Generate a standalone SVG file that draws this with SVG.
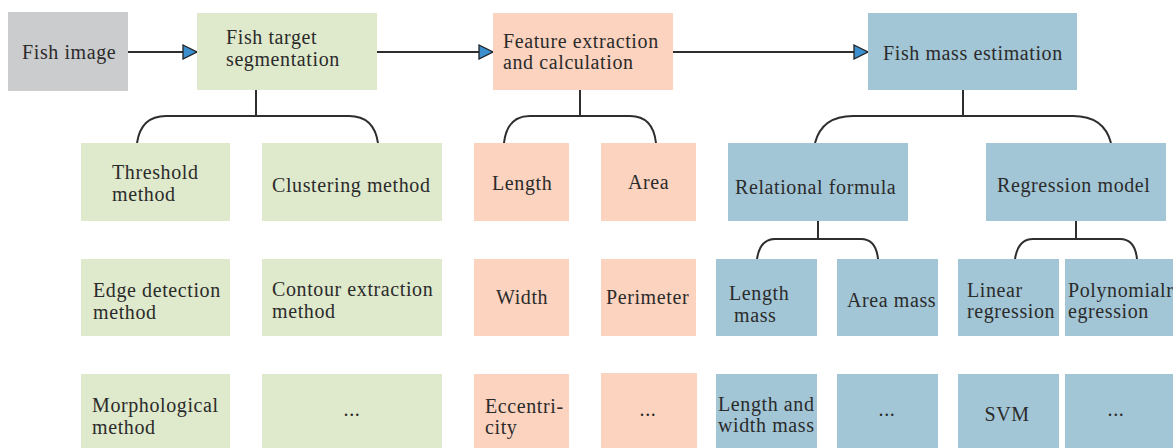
<svg xmlns="http://www.w3.org/2000/svg" width="1173" height="448" viewBox="0 0 1173 448">
  <style>
    text { font-family: "Liberation Serif", "Times New Roman", serif; font-size: 20px; fill: #2b2b2b; letter-spacing: 0.6px; }
    .gray { fill: #cbccce; }
    .green { fill: #dfe9cc; }
    .peach { fill: #fbd3bf; }
    .blue { fill: #a2c6d6; }
    .wire { fill: none; stroke: #2e2e2e; stroke-width: 2; }
    .mid { text-anchor: middle; }
  </style>
  <defs>
    <marker id="tri" markerUnits="userSpaceOnUse" markerWidth="16" markerHeight="16" refX="14" refY="7" orient="auto" viewBox="-1 -1 16 16">
      <path d="M0,0 L14,7 L0,14 Z" fill="#3b8fcf" stroke="#222" stroke-width="1.3"/>
    </marker>
  </defs>

  <!-- connectors -->
  <g id="connectors">
    <line class="wire" x1="128" y1="52" x2="197" y2="52" marker-end="url(#tri)"/>
    <line class="wire" x1="377" y1="52" x2="493" y2="52" marker-end="url(#tri)"/>
    <line class="wire" x1="673" y1="52" x2="868" y2="52" marker-end="url(#tri)"/>

    <!-- segmentation branches -->
    <path class="wire" d="M256 90 V116"/>
    <path class="wire" d="M137 143 Q141 116 166 116 H349 Q374 116 378 143"/>
    <!-- feature branches -->
    <path class="wire" d="M580 90 V116"/>
    <path class="wire" d="M504 143 Q507 116 530 116 H630 Q653 116 656 143"/>
    <!-- mass estimation branches -->
    <path class="wire" d="M963 90 V116"/>
    <path class="wire" d="M815 143 Q822 116 853 116 H1073 Q1104 116 1111 143"/>
    <!-- relational formula branches -->
    <path class="wire" d="M818 221 V239"/>
    <path class="wire" d="M757 259 Q760 239 775 239 H861 Q876 239 878 259"/>
    <!-- regression model branches -->
    <path class="wire" d="M1076 221 V239"/>
    <path class="wire" d="M1015 259 Q1018 239 1033 239 H1120 Q1135 239 1137 259"/>
  </g>

  <!-- top row -->
  <g id="fish-image">
    <rect class="gray" x="8" y="12" width="120" height="79"/>
    <text x="22" y="59">Fish image</text>
  </g>
  <g id="segmentation">
    <rect class="green" x="197" y="13" width="180" height="77"/>
    <text x="226" y="44">Fish target</text>
    <text x="226" y="66">segmentation</text>
  </g>
  <g id="feature">
    <rect class="peach" x="493" y="13" width="180" height="77"/>
    <text x="503" y="48">Feature extraction</text>
    <text x="503" y="69">and calculation</text>
  </g>
  <g id="mass-estimation">
    <rect class="blue" x="868" y="13" width="209" height="77"/>
    <text x="883" y="60">Fish mass estimation</text>
  </g>

  <!-- segmentation methods -->
  <g id="threshold">
    <rect class="green" x="81" y="143" width="149" height="78"/>
    <text x="112" y="179">Threshold</text>
    <text x="112" y="201">method</text>
  </g>
  <g id="clustering">
    <rect class="green" x="262" y="143" width="180" height="78"/>
    <text x="272" y="192">Clustering method</text>
  </g>
  <g id="edge">
    <rect class="green" x="81" y="259" width="149" height="77"/>
    <text x="93" y="297">Edge detection</text>
    <text x="93" y="319">method</text>
  </g>
  <g id="contour">
    <rect class="green" x="262" y="259" width="180" height="77"/>
    <text x="272" y="296">Contour extraction</text>
    <text x="272" y="318">method</text>
  </g>
  <g id="morphological">
    <rect class="green" x="81" y="374" width="149" height="80"/>
    <text x="92" y="412">Morphological</text>
    <text x="92" y="434">method</text>
  </g>
  <g id="seg-more">
    <rect class="green" x="262" y="374" width="180" height="80"/>
    <text class="mid" x="352" y="416">...</text>
  </g>

  <!-- features -->
  <g id="length">
    <rect class="peach" x="474" y="143" width="95" height="78"/>
    <text x="492" y="190">Length</text>
  </g>
  <g id="area">
    <rect class="peach" x="601" y="143" width="95" height="78"/>
    <text x="628" y="189">Area</text>
  </g>
  <g id="width">
    <rect class="peach" x="474" y="259" width="95" height="77"/>
    <text x="496" y="304">Width</text>
  </g>
  <g id="perimeter">
    <rect class="peach" x="601" y="259" width="95" height="77"/>
    <text x="606" y="304">Perimeter</text>
  </g>
  <g id="eccentricity">
    <rect class="peach" x="474" y="374" width="95" height="80"/>
    <text x="485" y="413">Eccentri-</text>
    <text x="485" y="434">city</text>
  </g>
  <g id="feature-more">
    <rect class="peach" x="601" y="373" width="96" height="81"/>
    <text class="mid" x="648" y="416">...</text>
  </g>

  <!-- mass estimation approaches -->
  <g id="relational">
    <rect class="blue" x="728" y="143" width="180" height="78"/>
    <text x="735" y="194">Relational formula</text>
  </g>
  <g id="regression">
    <rect class="blue" x="986" y="143" width="180" height="78"/>
    <text x="997" y="192">Regression model</text>
  </g>
  <g id="length-mass">
    <rect class="blue" x="716" y="259" width="101" height="77"/>
    <text x="729" y="300">Length</text>
    <text x="734" y="322">mass</text>
  </g>
  <g id="area-mass">
    <rect class="blue" x="837" y="259" width="101" height="77"/>
    <text x="847" y="307">Area mass</text>
  </g>
  <g id="linear">
    <rect class="blue" x="958" y="259" width="101" height="77"/>
    <text x="967" y="297">Linear</text>
    <text x="967" y="318">regression</text>
  </g>
  <g id="polynomial">
    <rect class="blue" x="1065" y="259" width="115" height="77"/>
    <text x="1068" y="297">Polynomialr</text>
    <text x="1068" y="318">egression</text>
  </g>
  <g id="length-width-mass">
    <rect class="blue" x="716" y="374" width="101" height="80"/>
    <text x="718" y="411">Length and</text>
    <text x="718" y="432">width mass</text>
  </g>
  <g id="formula-more">
    <rect class="blue" x="837" y="374" width="101" height="80"/>
    <text class="mid" x="887" y="416">...</text>
  </g>
  <g id="svm">
    <rect class="blue" x="958" y="374" width="101" height="80"/>
    <text class="mid" x="1007" y="421">SVM</text>
  </g>
  <g id="regression-more">
    <rect class="blue" x="1065" y="374" width="115" height="80"/>
    <text class="mid" x="1116" y="416">...</text>
  </g>
</svg>
